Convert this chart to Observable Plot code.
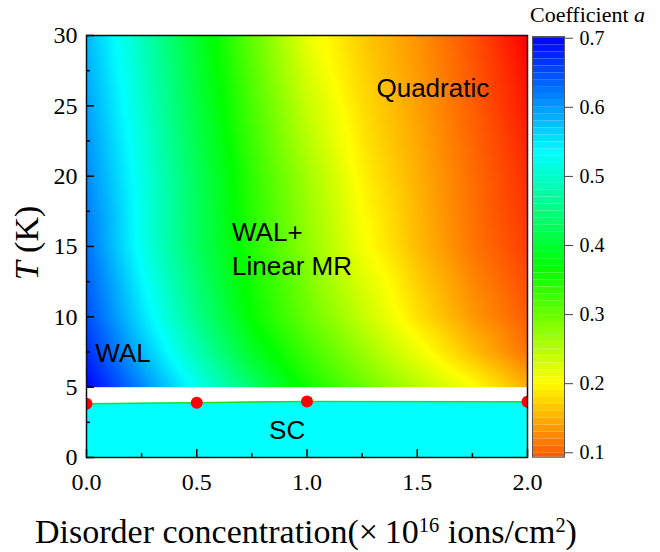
<!DOCTYPE html>
<html><head><meta charset="utf-8">
<script src="https://cdn.jsdelivr.net/npm/d3@7"></script>
<script src="https://cdn.jsdelivr.net/npm/@observablehq/plot@0.6"></script>
<style>
body{margin:0;background:#fff;}
#wrap{position:relative;width:660px;height:552px;overflow:hidden;background:#fff;}
#wrap svg{position:absolute;}
.lab{position:absolute;font-family:"Liberation Serif",serif;color:#000;white-space:nowrap;line-height:1;}
</style></head><body><div id="wrap"></div>
<script>
// ---- data ----
const concentrations = [0, 0.25, 0.5, 0.75, 1.0, 1.25, 1.5, 1.75, 2.0];
const temperatures = [5, 7.5, 10, 15, 20, 25, 30];
const coeffT5   = [0.700, 0.612, 0.524, 0.437, 0.357, 0.300, 0.250, 0.205, 0.150];
const coeffT7_5 = [0.670, 0.578, 0.486, 0.393, 0.327, 0.268, 0.212, 0.160, 0.110];
const coeffT10  = [0.650, 0.553, 0.458, 0.365, 0.300, 0.240, 0.183, 0.135, 0.095];
const coeffT15  = [0.625, 0.523, 0.430, 0.346, 0.275, 0.208, 0.158, 0.112, 0.075];
const coeffT20  = [0.610, 0.519, 0.426, 0.338, 0.262, 0.194, 0.150, 0.106, 0.065];
const coeffT25  = [0.595, 0.505, 0.410, 0.320, 0.238, 0.180, 0.140, 0.097, 0.050];
const coeffT30  = [0.580, 0.490, 0.396, 0.304, 0.215, 0.168, 0.131, 0.088, 0.035];
const coeffRows = [coeffT5, coeffT7_5, coeffT10, coeffT15, coeffT20, coeffT25, coeffT30];

const scConc = [0, 0.5, 1.0, 2.0];
const scTc   = [3.82, 3.89, 3.98, 3.96];

const xTicks = [0, 0.5, 1.0, 1.5, 2.0];
const xMinor = [0.25, 0.75, 1.25, 1.75];
const yTicks = [0, 5, 10, 15, 20, 25, 30];
const yMinor = [2.5, 7.5, 12.5, 17.5, 22.5, 27.5];
const cbTicks = [0.1, 0.2, 0.3, 0.4, 0.5, 0.6, 0.7];

const regionLabels = [
  {text: "Quadratic", x: 1.315, T: 25.66},
  {text: "WAL+", x: 0.66, T: 15.37},
  {text: "Linear MR", x: 0.66, T: 12.94},
  {text: "WAL", x: 0.04, T: 6.82}
];
const scLabel = [{text: "SC", x: 0.91, T: 1.28}];

// ---- build tables ----
const field = [];
temperatures.forEach((T, i) => concentrations.forEach((x, j) => field.push({x, T, a: coeffRows[i][j]})));
const sc = scConc.map((x, i) => ({x, Tc: scTc[i]}));

const colorOpts = {type: "linear", domain: [0.035, 0.7], clamp: true,
  interpolate: t => d3.hsl(240 * t, 1, 0.5).formatHex()};

const SERIF = "'Liberation Serif', serif";
const SANS = "'Liberation Sans', Arial, sans-serif";
const W = 660, H = 552, ML = 86, MR = 133, MT = 35, MB = 95;
const FW = W - ML - MR, FH = H - MT - MB;
const fmt1 = d3.format(".1f");

const main = Plot.plot({
  width: W, height: H, marginLeft: ML, marginRight: MR, marginTop: MT, marginBottom: MB,
  style: {background: "transparent", color: "#000"},
  x: {domain: [0, 2], axis: null},
  y: {domain: [0, 30], axis: null},
  color: colorOpts,
  marks: [
    Plot.raster(field, {x: "x", y: "T", fill: "a", interpolate: "barycentric", x1: 0, x2: 2, y1: 5, y2: 30}),
    Plot.areaY(sc, {x: "x", y: "Tc", fill: "#00ffff"}),
    Plot.line(sc, {x: "x", y: "Tc", stroke: "#22dd22", strokeWidth: 1.5}),
    Plot.dot(sc, {x: "x", y: "Tc", r: 6, fill: "#ff0000", clip: true}),
    Plot.text(regionLabels, {x: "x", y: "T", text: "text", textAnchor: "start", lineAnchor: "bottom",
      fontFamily: SANS, fontSize: 26, fill: "#000"}),
    Plot.text(scLabel, {x: "x", y: "T", text: "text", textAnchor: "middle", lineAnchor: "bottom",
      fontFamily: SANS, fontSize: 26, fill: "#000"}),
    Plot.tickX(xTicks, {x: d => d, insetTop: FH - 8, stroke: "#000", strokeWidth: 1.5}),
    Plot.tickX(xMinor, {x: d => d, insetTop: FH - 4, stroke: "#000", strokeWidth: 1.5}),
    Plot.tickY(yTicks, {y: d => d, insetRight: FW - 8, stroke: "#000", strokeWidth: 1.5}),
    Plot.tickY(yMinor, {y: d => d, insetRight: FW - 4, stroke: "#000", strokeWidth: 1.5}),
    Plot.frame({stroke: "#111", strokeWidth: 1.5}),
    // tick labels
    Plot.text(xTicks, {x: d => d, frameAnchor: "bottom", dy: 15, lineAnchor: "top", text: d => fmt1(d),
      fontSize: 24, fontFamily: SERIF, fill: "#000"}),
    Plot.text(yTicks, {y: d => d, frameAnchor: "left", dx: -9, textAnchor: "end", lineAnchor: "middle",
      text: d => String(d), fontSize: 24, fontFamily: SERIF, fill: "#000"})
  ]
});

// colour bar
const cbLo = 0.0936, cbHi = 0.7025;
const bands = d3.range(9, 71).map(k => ({lo: Math.max(cbLo, k / 100), hi: Math.min(cbHi, (k + 1) / 100), mid: (k + 0.5) / 100}));
const CBL = 500;
const cbar = Plot.plot({
  width: 160, height: H, marginLeft: 32, marginRight: 96, marginTop: 36, marginBottom: H - 456.7,
  style: {background: "transparent", color: "#000"},
  x: {domain: [0, 1], axis: null},
  y: {domain: [cbLo, cbHi], axis: null},
  color: colorOpts,
  marks: [
    Plot.rectY(bands, {x1: 0, x2: 1, y1: "lo", y2: "hi", fill: "mid"}),
    Plot.frame({stroke: "#555", strokeWidth: 1}),
    Plot.axisY({anchor: "right", ticks: cbTicks, tickSize: 8, text: null, label: null, stroke: "#444"}),
    Plot.text(cbTicks, {y: d => d, frameAnchor: "right", dx: 15, textAnchor: "start", lineAnchor: "middle",
      text: d => fmt1(d), fontSize: 20, fontFamily: SERIF, fill: "#000"})
  ]
});

const wrap = document.getElementById("wrap");
main.style.left = "0px"; main.style.top = "0px";
cbar.style.left = CBL + "px"; cbar.style.top = "0px";
wrap.appendChild(main);
wrap.appendChild(cbar);

// make the per-mark font families win over the library's default stylesheet
wrap.querySelectorAll("svg [font-family]").forEach(g => {
  const f = g.getAttribute("font-family");
  [g, ...g.querySelectorAll("text")].forEach(e => e.style.setProperty("font-family", f, "important"));
});

function addLabel(html, css) {
  const d = document.createElement("div");
  d.className = "lab";
  d.innerHTML = html;
  Object.assign(d.style, css);
  wrap.appendChild(d);
  return d;
}
const sup = t => `<sup style="font-size:0.6em;vertical-align:0.55em;line-height:0">${t}</sup>`;
// x-axis title
addLabel(`Disorder concentration(×&thinsp;10${sup(16)} ions/cm${sup(2)})`,
  {fontSize: "34px", top: "515px", left: "0px", width: "612px", textAlign: "center"});
// y-axis title
addLabel('<i>T</i> (K)', {fontSize: "34px", left: "27px", top: "243px", transform: "translate(-50%,-50%) rotate(-90deg)"});
// colour bar title
addLabel('Coefficient <i>a</i>', {fontSize: "22px", left: "530px", top: "4px"});
</script>
</body></html>
